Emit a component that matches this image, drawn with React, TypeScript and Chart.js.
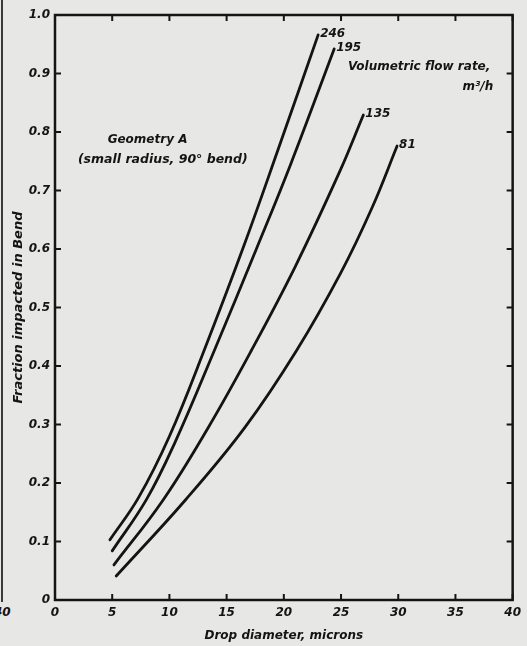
import React, { useEffect, useRef } from "react";
import { Chart, registerables } from "chart.js";

Chart.register(...registerables);

// Drop diameter (microns) and fraction impacted, per volumetric flow rate (m³/h)
const flowRates = ["246", "195", "135", "81"];
const x246 = [4.8, 7.3, 10.0, 13.1, 16.5, 19.5, 23.0];
const y246 = [0.103, 0.175, 0.28, 0.43, 0.605, 0.77, 0.966];
const x195 = [5.0, 8.0, 10.5, 14.0, 17.6, 20.6, 24.4];
const y195 = [0.084, 0.172, 0.27, 0.43, 0.6, 0.745, 0.942];
const x135 = [5.15, 9.45, 13.4, 17.15, 21.0, 24.9, 26.95];
const y135 = [0.06, 0.171, 0.295, 0.426, 0.57, 0.733, 0.829];
const x81 = [5.35, 11.4, 16.6, 21.1, 25.0, 27.7, 29.9];
const y81 = [0.041, 0.171, 0.295, 0.426, 0.56, 0.67, 0.776];

const xTicks = [0, 5, 10, 15, 20, 25, 30, 35, 40];
const yTicks = [0, 0.1, 0.2, 0.3, 0.4, 0.5, 0.6, 0.7, 0.8, 0.9, 1.0];

const xTitle = "Drop diameter, microns";
const yTitle = "Fraction impacted in Bend";
const noteGeometry = ["Geometry A", "(small radius, 90° bend)"];
const noteFlow = ["Volumetric flow rate,", "m³/h"];

const INK = "#141414";
const FONT = "'DejaVu Sans', sans-serif";

const pts = (xs: number[], ys: number[]) => xs.map((x, i) => ({ x, y: ys[i] }));

const framePlugin = {
  id: "frameAndNotes",
  afterDraw(chart: any) {
    const { ctx, chartArea: a, scales } = chart;
    const xs = scales.x;
    const ys = scales.y;
    ctx.save();
    ctx.strokeStyle = INK;
    ctx.lineWidth = 2.5;
    ctx.strokeRect(a.left, a.top, a.right - a.left, a.bottom - a.top);
    ctx.lineWidth = 2;
    const L = 6;
    xTicks.forEach((v) => {
      const px = xs.getPixelForValue(v);
      ctx.beginPath();
      ctx.moveTo(px, a.bottom);
      ctx.lineTo(px, a.bottom - L);
      ctx.moveTo(px, a.top);
      ctx.lineTo(px, a.top + L);
      ctx.stroke();
    });
    yTicks.forEach((v) => {
      const py = ys.getPixelForValue(v);
      ctx.beginPath();
      ctx.moveTo(a.left, py);
      ctx.lineTo(a.left + L, py);
      ctx.moveTo(a.right, py);
      ctx.lineTo(a.right - L, py);
      ctx.stroke();
    });

    ctx.fillStyle = INK;
    ctx.font = `italic bold 12px ${FONT}`;
    ctx.textBaseline = "middle";
    // curve end labels
    chart.data.datasets.forEach((ds: any) => {
      const last = ds.data[ds.data.length - 1];
      const px = xs.getPixelForValue(last.x);
      const py = ys.getPixelForValue(last.y);
      ctx.textAlign = "left";
      ctx.fillText(ds.label, px + 2, py - 1);
    });
    // notes
    ctx.textAlign = "left";
    ctx.fillText(noteGeometry[0], xs.getPixelForValue(4.6), ys.getPixelForValue(0.786));
    ctx.font = `italic bold 12.5px ${FONT}`;
    ctx.fillText(noteGeometry[1], xs.getPixelForValue(2.0), ys.getPixelForValue(0.752));
    ctx.font = `italic bold 12px ${FONT}`;
    ctx.fillText(noteFlow[0], xs.getPixelForValue(25.6), ys.getPixelForValue(0.911));
    ctx.textAlign = "right";
    ctx.fillText(noteFlow[1], xs.getPixelForValue(38.3), ys.getPixelForValue(0.877));
    ctx.restore();
  },
};

export default function App() {
  const ref = useRef<HTMLCanvasElement | null>(null);
  useEffect(() => {
    if (!ref.current) return;
    const series = [pts(x246, y246), pts(x195, y195), pts(x135, y135), pts(x81, y81)];
    const chart = new Chart(ref.current, {
      type: "line",
      data: {
        datasets: series.map((d, i) => ({
          label: flowRates[i],
          data: d,
          borderColor: INK,
          borderWidth: 2.8,
          borderCapStyle: "round" as const,
          pointRadius: 0,
          fill: false,
          tension: 0.4,
        })),
      },
      options: {
        animation: false,
        responsive: true,
        maintainAspectRatio: false,
        layout: { padding: { top: 15, right: 12, left: 0, bottom: 0 } },
        plugins: { legend: { display: false }, tooltip: { enabled: false } },
        scales: {
          x: {
            type: "linear",
            min: 0,
            max: 40,
            afterFit: (s: any) => { s.height = 46; },
            afterBuildTicks: (s: any) => { s.ticks = xTicks.map((v) => ({ value: v })); },
            grid: { display: false, drawTicks: false },
            border: { display: false },
            ticks: { color: INK, padding: 6, font: { family: FONT, size: 12, style: "italic", weight: "bold" } },
            title: { display: true, text: xTitle, color: INK, padding: { top: 2, bottom: 3 }, font: { family: FONT, size: 12, style: "italic", weight: "bold" } },
          },
          y: {
            type: "linear",
            min: 0,
            max: 1,
            afterFit: (s: any) => { s.width = 55; },
            afterBuildTicks: (s: any) => { s.ticks = yTicks.map((v) => ({ value: v })); },
            grid: { display: false, drawTicks: false },
            border: { display: false },
            ticks: {
              color: INK,
              padding: 5,
              font: { family: FONT, size: 12, style: "italic", weight: "bold" },
              callback: (v: any) => (Number(v) === 0 ? "0" : Number(v).toFixed(1)),
            },
            title: { display: true, text: yTitle, color: INK, padding: { top: 11, bottom: 0 }, font: { family: FONT, size: 13, style: "italic", weight: "bold" } },
          },
        },
      },
      plugins: [framePlugin],
    });
    return () => chart.destroy();
  }, []);
  return (
    <div style={{ position: "fixed", left: 0, top: 0, width: 527, height: 646, background: "#e7e7e5", overflow: "hidden" }}>
      <div style={{ position: "absolute", left: 1, top: 0, width: 2, height: 602, background: "#3a3a3a" }} />
      <span style={{ position: "absolute", left: -6, top: 605, font: `italic bold 12px ${FONT}`, color: INK }}>40</span>
      <canvas ref={ref} style={{ position: "relative" }} />
    </div>
  );
}
